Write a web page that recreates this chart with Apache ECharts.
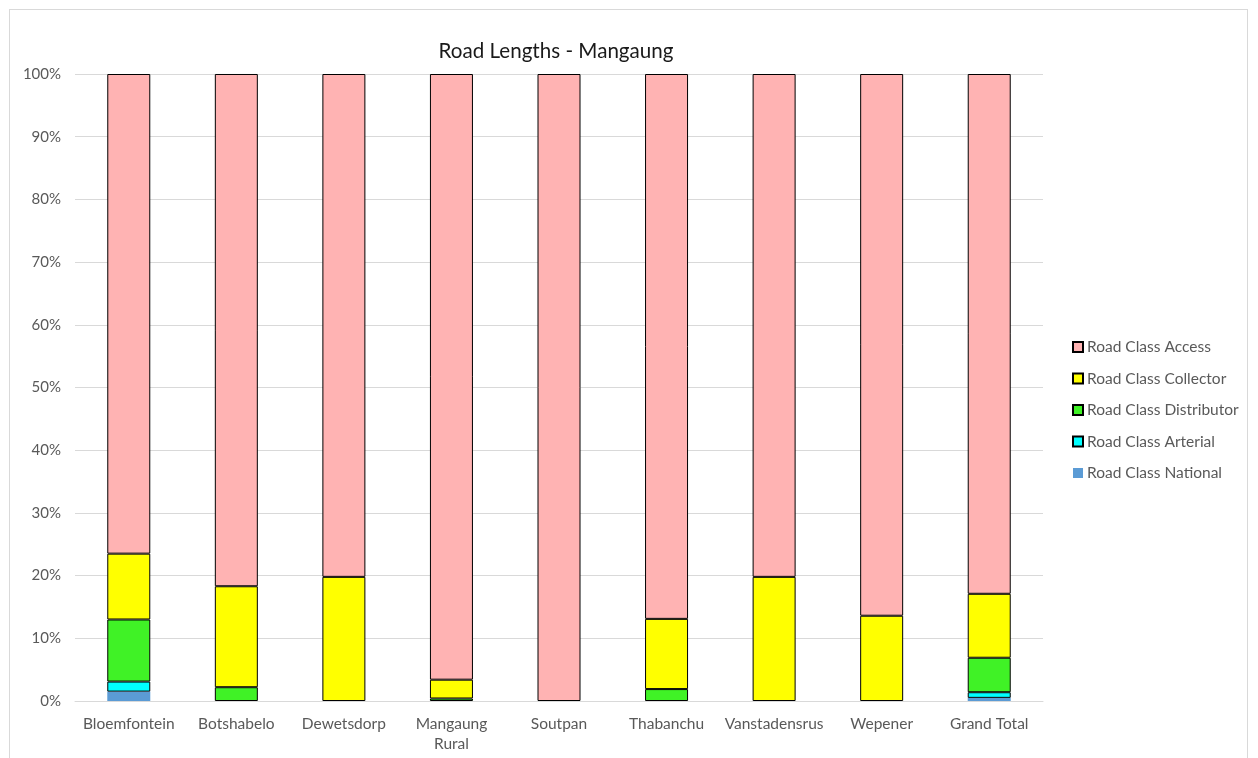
<!DOCTYPE html>
<html><head><meta charset="utf-8">
<script src="https://cdn.jsdelivr.net/npm/echarts@6/dist/echarts.min.js"></script>
<style>
html,body{margin:0;padding:0;background:#fff;}
#frame{position:absolute;left:9px;top:9px;width:1239px;height:760px;border:1px solid #d9d9d9;box-sizing:border-box;}
#c{position:absolute;left:0;top:0;width:1258px;height:758px;}
</style></head>
<body>
<div id="frame"></div>
<div id="c"></div>
<script>
const categories = ['Bloemfontein','Botshabelo','Dewetsdorp','Mangaung Rural','Soutpan','Thabanchu','Vanstadensrus','Wepener','Grand Total'];
const national    = [1.5, 0,    0,    0,    0,   0,    0,    0,    0.5];
const arterial    = [1.6, 0,    0,    0,    0,   0,    0,    0,    0.9];
const distributor = [9.9, 2.2,  0,    0.4,  0,   1.9,  0,    0,    5.5];
const collector   = [10.5,16.1, 19.8, 3.0,  0,   11.2, 19.8, 13.6, 10.2];
const access      = [76.5,81.7, 80.2, 96.6, 100, 86.9, 80.2, 86.4, 82.9];
const yTicks = [0,10,20,30,40,50,60,70,80,90,100];

const font = 'Lato, "Noto Sans", sans-serif';
const clean = a => a.map(v => v === 0 ? '-' : v);
function s(name, data, color, border) {
  return {
    name, type: 'bar', stack: 'total', data: clean(data), barWidth: 43,
    itemStyle: { color, borderColor: border ? '#000' : color, borderWidth: border ? 1 : 0 }
  };
}
const chart = echarts.init(document.getElementById('c'));
chart.setOption({
  animation: false,
  title: { text: 'Road Lengths - Mangaung', left: 551, textAlign: 'center', top: 36,
    textStyle: { fontFamily: font, fontSize: 20.6, fontWeight: 'normal', color: '#1a1a1a' } },
  legend: {
    orient: 'vertical', left: 1067, top: 334, itemGap: 15.5, itemWidth: 10, itemHeight: 10,
    icon: 'rect',
    data: ['Road Class Access','Road Class Collector','Road Class Distributor','Road Class Arterial','Road Class National'],
    textStyle: { fontFamily: font, fontSize: 15.5, color: '#595959', padding: [0,0,0,-1] }
  },
  grid: { left: 75, right: 215, top: 74, bottom: 57 },
  xAxis: {
    type: 'category', data: categories,
    axisTick: { show: false },
    axisLine: { lineStyle: { color: '#d9d9d9', width: 1 } },
    axisLabel: { fontFamily: font, fontSize: 15.5, color: '#595959', margin: 13, lineHeight: 20, interval: 0,
      formatter: v => v === 'Mangaung Rural' ? 'Mangaung\nRural' : v }
  },
  yAxis: {
    type: 'value', min: 0, max: 100, interval: 10,
    axisLabel: { fontFamily: font, fontSize: 15, color: '#595959', margin: 14,
      formatter: v => yTicks.includes(v) ? v + '%' : '' },
    splitLine: { lineStyle: { color: '#d9d9d9', width: 1 } },
    axisLine: { show: false }, axisTick: { show: false }
  },
  series: [
    s('Road Class National', national, '#5B9BD5', false),
    s('Road Class Arterial', arterial, '#00FFFF', true),
    s('Road Class Distributor', distributor, '#40F226', true),
    s('Road Class Collector', collector, '#FFFF00', true),
    s('Road Class Access', access, '#FFB3B3', true)
  ]
});
</script>
</body></html>
